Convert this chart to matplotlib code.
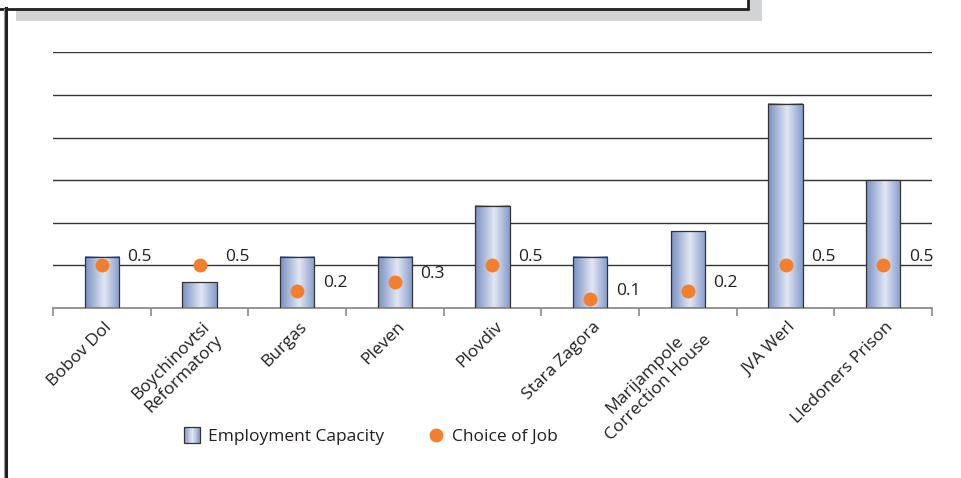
import numpy as np
import matplotlib
matplotlib.use("Agg")
import matplotlib.pyplot as plt
from matplotlib.colors import LinearSegmentedColormap
from matplotlib.patches import Rectangle
from matplotlib.lines import Line2D
from matplotlib.legend_handler import HandlerBase
from matplotlib.transforms import ScaledTranslation

plt.rcParams["font.family"] = ["Open Sans", "DejaVu Sans"]

# Data
sites = ["Bobov Dol", "Boychinovtsi\nReformatory", "Burgas", "Pleven", "Plovdiv",
         "Stara Zagora", "Marijampole\nCorrection House", "JVA Werl", "Lledoners Prison"]
capacity = [0.6, 0.3, 0.6, 0.6, 1.2, 0.6, 0.9, 2.4, 1.5]
choice = [0.5, 0.5, 0.2, 0.3, 0.5, 0.1, 0.2, 0.5, 0.5]
choice_labels = ["0.5", "0.5", "0.2", "0.3", "0.5", "0.1", "0.2", "0.5", "0.5"]

BAR_W = 0.35
ORANGE = "#f37f2c"
TXT = "#231f20"
FS = 12.5
bar_cmap = LinearSegmentedColormap.from_list(
    "bar", [(0.0, "#7990c3"), (0.55, "#e2e7f3"), (1.0, "#869bcc")])

W, H = 961, 478
fig = plt.figure(figsize=(W / 100, H / 100), dpi=100)


def fx(px):
    return px / W


def fy(py):
    return 1 - py / H


ax = fig.add_axes([fx(53), fy(308), fx(932) - fx(53), fy(52) - fy(308)])

x = np.arange(len(sites))
bars = ax.bar(x, capacity, width=BAR_W, facecolor="none", edgecolor="#333333",
              linewidth=0.9, zorder=3)

# gradient fill inside each bar
grad = np.linspace(0, 1, 64).reshape(1, -1)
for b in bars:
    x0, w, h = b.get_x(), b.get_width(), b.get_height()
    ax.imshow(grad, extent=[x0, x0 + w, 0, h], aspect="auto", cmap=bar_cmap,
              interpolation="bicubic", zorder=2)

ax.plot(x, choice, "o", color=ORANGE, markersize=10, markeredgewidth=0, zorder=4)
for xi, v, lab in zip(x, choice, choice_labels):
    ax.annotate(lab, (xi, v), xytext=(18.5, 3), textcoords="offset points",
                ha="left", va="baseline", fontsize=FS, color=TXT)

ax.set_xlim(-0.5, len(sites) - 0.5)
ax.set_ylim(0, 3.005)
ax.set_yticks(np.arange(0.5, 3.01, 0.5))
ax.yaxis.grid(True, color="#333333", linewidth=1.0)
ax.set_axisbelow(True)
ax.tick_params(axis="y", length=0, labelleft=False)

ax.set_xticks(np.arange(-0.5, len(sites)))
ax.set_xticklabels([])
ax.tick_params(axis="x", direction="out", length=6, width=1.1, color="#808080")
for s in ["top", "left", "right"]:
    ax.spines[s].set_visible(False)
ax.spines["bottom"].set_color("#8c8c8c")
ax.spines["bottom"].set_linewidth(1.3)

# rotated category labels
off = ScaledTranslation(2 / 100, -11 / 100, fig.dpi_scale_trans)
for xi, name in zip(x, sites):
    ax.text(xi, 0, name, transform=ax.get_xaxis_transform() + off,
            rotation=45, rotation_mode="anchor", ha="right", va="top",
            multialignment="center", fontsize=FS, color=TXT, linespacing=1.2)


# legend with gradient swatch
class GradientHandler(HandlerBase):
    def create_artists(self, legend, orig, xd, yd, width, height, fontsize, trans):
        n = 12
        arts = []
        side = height * 1.3
        x0 = xd + (width - side) / 2
        y0 = yd + (height - side) / 2
        for i in range(n):
            arts.append(Rectangle((x0 + side * i / n, y0), side / n, side,
                                  facecolor=bar_cmap((i + 0.5) / n), edgecolor="none",
                                  transform=trans))
        arts.append(Rectangle((x0, y0), side, side, facecolor="none",
                              edgecolor="#333333", linewidth=0.9, transform=trans))
        return arts


cap_handle = Rectangle((0, 0), 1, 1)
dot_handle = Line2D([], [], marker="o", linestyle="none", color=ORANGE,
                    markersize=10, markeredgewidth=0)
fig.legend([cap_handle, dot_handle], ["Employment Capacity", "Choice of Job"],
           handler_map={cap_handle: GradientHandler()},
           loc="center", bbox_to_anchor=(fx(370), fy(437)), ncol=2, frameon=False,
           fontsize=FS, handlelength=1.1, handletextpad=0.4, columnspacing=2.4,
           labelcolor=TXT)

# decorative frame bits at the top left
fig.add_artist(Rectangle((fx(16), fy(21)), fx(762) - fx(16), fy(0) - fy(21),
                         transform=fig.transFigure, facecolor="#d2d3d5",
                         edgecolor="none", zorder=0))
fig.add_artist(Rectangle((fx(-5), fy(8.5)), fx(748) - fx(-5), fy(-5) - fy(8.5),
                         transform=fig.transFigure, facecolor="white",
                         edgecolor=TXT, linewidth=2, zorder=1))
fig.add_artist(Line2D([fx(5.5), fx(5.5)], [fy(8), fy(480)], transform=fig.transFigure,
                      color=TXT, linewidth=2.2, zorder=1))
fig.add_artist(Line2D([fx(3.5), fx(3.5)], [fy(9), fy(480)], transform=fig.transFigure,
                      color="#9a9a9a", linewidth=0.8, zorder=1))

fig.savefig("out.png", dpi=100)
